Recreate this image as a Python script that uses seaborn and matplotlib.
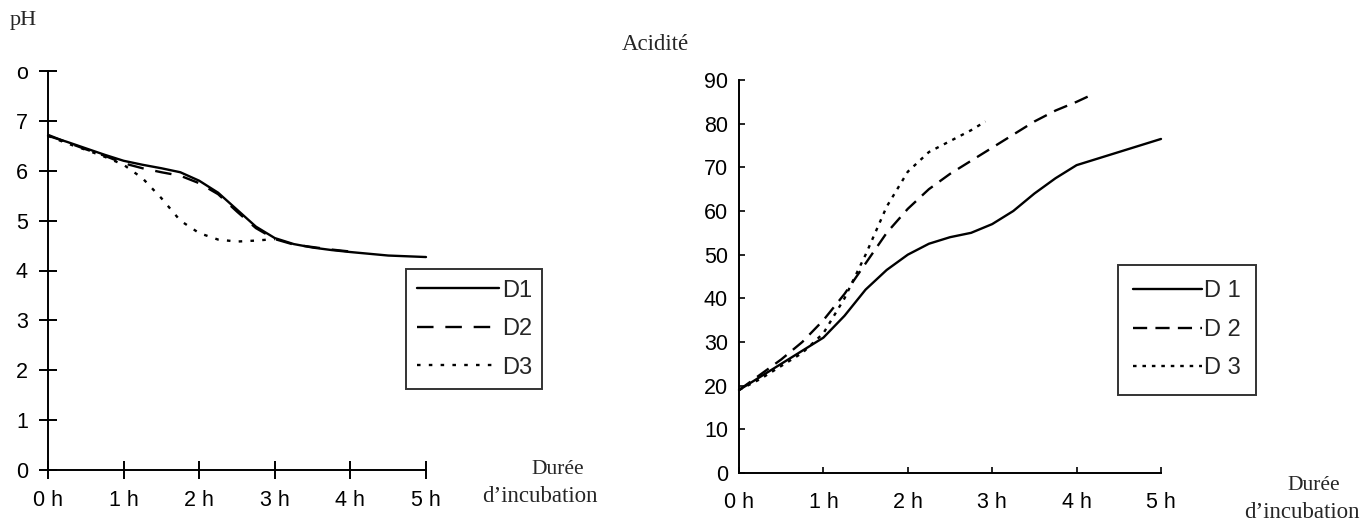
import matplotlib
matplotlib.use("Agg")
import matplotlib.pyplot as plt
import seaborn as sns
import pandas as pd

# ---------------- data ----------------
hours_labels = ["0 h", "1 h", "2 h", "3 h", "4 h", "5 h"]
ph_ticks = [0, 1, 2, 3, 4, 5, 6, 7, 8]
ph_tick_labels = ["0", "1", "2", "3", "4", "5", "6", "7", "o"]
ac_ticks = [0, 10, 20, 30, 40, 50, 60, 70, 80, 90]

ph_d1_t = [0, 0.25, 0.5, 0.75, 1.0, 1.25, 1.5, 1.75, 2.0, 2.25, 2.5, 2.75, 3.0, 3.25, 3.5, 3.75, 4.0, 4.5, 5.0]
ph_d1 = [6.70, 6.58, 6.45, 6.32, 6.20, 6.12, 6.05, 5.97, 5.80, 5.56, 5.22, 4.88, 4.65, 4.53, 4.46, 4.41, 4.37, 4.30, 4.27]
ph_d2_t = [0, 0.25, 0.5, 0.75, 1.0, 1.25, 1.5, 1.75, 2.0, 2.25, 2.5, 2.75, 3.0, 3.25, 3.5, 3.75, 4.0, 4.1]
ph_d2 = [6.72, 6.57, 6.43, 6.30, 6.15, 6.05, 5.97, 5.90, 5.75, 5.53, 5.18, 4.85, 4.63, 4.52, 4.47, 4.42, 4.38, 4.36]
ph_d3_t = [0, 0.25, 0.5, 0.75, 1.0, 1.25, 1.5, 1.75, 2.0, 2.25, 2.5, 2.75, 3.0]
ph_d3 = [6.70, 6.55, 6.42, 6.28, 6.12, 5.85, 5.45, 5.00, 4.75, 4.62, 4.58, 4.60, 4.63]

ac_d1_t = [0, 0.25, 0.5, 0.75, 1.0, 1.25, 1.5, 1.75, 2.0, 2.25, 2.5, 2.75, 3.0, 3.25, 3.5, 3.75, 4.0, 4.25, 4.5, 4.75, 5.0]
ac_d1 = [19, 22, 25, 28, 31, 36, 42, 46.5, 50, 52.5, 54, 55, 57, 60, 64, 67.5, 70.5, 72, 73.5, 75, 76.5]
ac_d2_t = [0, 0.25, 0.5, 0.75, 1.0, 1.25, 1.5, 1.75, 2.0, 2.25, 2.5, 2.75, 3.0, 3.25, 3.5, 3.75, 4.0, 4.2]
ac_d2 = [19, 22.5, 26, 30, 35, 41, 48, 55, 60.5, 65, 68.5, 71.5, 74.5, 77.5, 80.5, 83, 85, 86.8]
ac_d3_t = [0, 0.25, 0.5, 0.75, 1.0, 1.25, 1.5, 1.75, 2.0, 2.25, 2.5, 2.75, 2.92]
ac_d3 = [19, 21.5, 24.5, 27.5, 32, 40, 50, 61, 69, 73.5, 76, 78.5, 80.5]

# ---------------- style ----------------
sns.set_style("ticks")
plt.rcParams["font.family"] = ["Liberation Sans", "DejaVu Sans"]
SERIF = ["Liberation Serif", "DejaVu Serif"]

fig = plt.figure(figsize=(13.68, 5.28), dpi=100)
fig.patch.set_facecolor("white")

ax1 = fig.add_axes([48 / 1368, 1 - 470 / 528, 378 / 1368, 399 / 528])
ax2 = fig.add_axes([739 / 1368, 1 - 473 / 528, 422 / 1368, 393 / 528])

lw = 1.7
left_styles = [("D1", ph_d1_t, ph_d1, (None, None)),
               ("D2", ph_d2_t, ph_d2, (7, 5)),
               ("D3", ph_d3_t, ph_d3, (1.5, 3.5))]
for lab, t, v, d in left_styles:
    df = pd.DataFrame({"t": t, "v": v})
    sns.lineplot(data=df, x="t", y="v", ax=ax1, color="black", lw=lw, label=lab)
    line = ax1.get_lines()[-1]
    if d[0] is not None:
        line.set_dashes(d)
    line.set_clip_on(False)

right_styles = [("D 1", ac_d1_t, ac_d1, (None, None)),
                ("D 2", ac_d2_t, ac_d2, (6, 3.5)),
                ("D 3", ac_d3_t, ac_d3, (1.5, 2.5))]
for lab, t, v, d in right_styles:
    df = pd.DataFrame({"t": t, "v": v})
    sns.lineplot(data=df, x="t", y="v", ax=ax2, color="black", lw=lw, label=lab)
    line = ax2.get_lines()[-1]
    if d[0] is not None:
        line.set_dashes(d)
    line.set_clip_on(False)

# ---- left axes ----
ax1.set_xlim(0, 5)
ax1.set_ylim(0, 8)
ax1.set_xticks(range(6))
ax1.set_xticklabels(hours_labels)
ax1.set_yticks(ph_ticks)
ax1.set_yticklabels(ph_tick_labels)
for s in ["top", "right"]:
    ax1.spines[s].set_visible(False)
for s in ["left", "bottom"]:
    ax1.spines[s].set_linewidth(1.4)
    ax1.spines[s].set_color("black")
ax1.tick_params(axis="both", direction="inout", length=13, width=1.4, colors="black", labelsize=15.5)
ax1.tick_params(axis="y", pad=8)
ax1.tick_params(axis="x", pad=8)
ax1.set_xlabel("")
ax1.set_ylabel("")

# ---- right axes ----
ax2.set_xlim(0, 5)
ax2.set_ylim(0, 90)
ax2.set_xticks(range(6))
ax2.set_xticklabels(hours_labels)
ax2.set_yticks(ac_ticks)
for s in ["top", "right"]:
    ax2.spines[s].set_visible(False)
for s in ["left", "bottom"]:
    ax2.spines[s].set_linewidth(1.4)
    ax2.spines[s].set_color("black")
ax2.tick_params(axis="both", direction="in", length=4, width=1.2, colors="black", labelsize=15.5)
ax2.tick_params(axis="y", pad=8)
ax2.tick_params(axis="x", pad=14)
ax2.set_xlabel("")
ax2.set_ylabel("")

# ---- legends ----
leg1 = ax1.legend(loc="upper left", bbox_to_anchor=(406 / 1368, 1 - 269 / 528),
                  bbox_transform=fig.transFigure, frameon=True, fancybox=False,
                  edgecolor="black", fontsize=17, handlelength=3.5, handletextpad=0.1,
                  labelspacing=0.7, borderpad=0.45, borderaxespad=0)
leg1.get_frame().set_linewidth(1.4)
leg2 = ax2.legend(loc="upper left", bbox_to_anchor=(1118 / 1368, 1 - 265 / 528),
                  bbox_transform=fig.transFigure, frameon=True, fancybox=False,
                  edgecolor="black", fontsize=17, handlelength=2.9, handletextpad=0.1,
                  labelspacing=0.7, borderpad=0.65, borderaxespad=0)
leg2.get_frame().set_linewidth(1.4)

# ---- free texts ----
fig.text(10 / 1368, 1 - 20 / 528, "pH", family=SERIF, fontsize=16, va="center", ha="left")
fig.text(622 / 1368, 1 - 45 / 528, "Acidité", family=SERIF, fontsize=16.5, va="center", ha="left")
fig.text(558 / 1368, 1 - 470 / 528, "Durée", family=SERIF, fontsize=15.5, va="center", ha="center")
fig.text(540 / 1368, 1 - 497 / 528, "d\u2019incubation", family=SERIF, fontsize=16.5, va="center", ha="center")
fig.text(1314 / 1368, 1 - 485 / 528, "Durée", family=SERIF, fontsize=15.5, va="center", ha="center")
fig.text(1302 / 1368, 1 - 512 / 528, "d\u2019incubation", family=SERIF, fontsize=16.5, va="center", ha="center")

fig.savefig("out.png", dpi=100, facecolor="white")
